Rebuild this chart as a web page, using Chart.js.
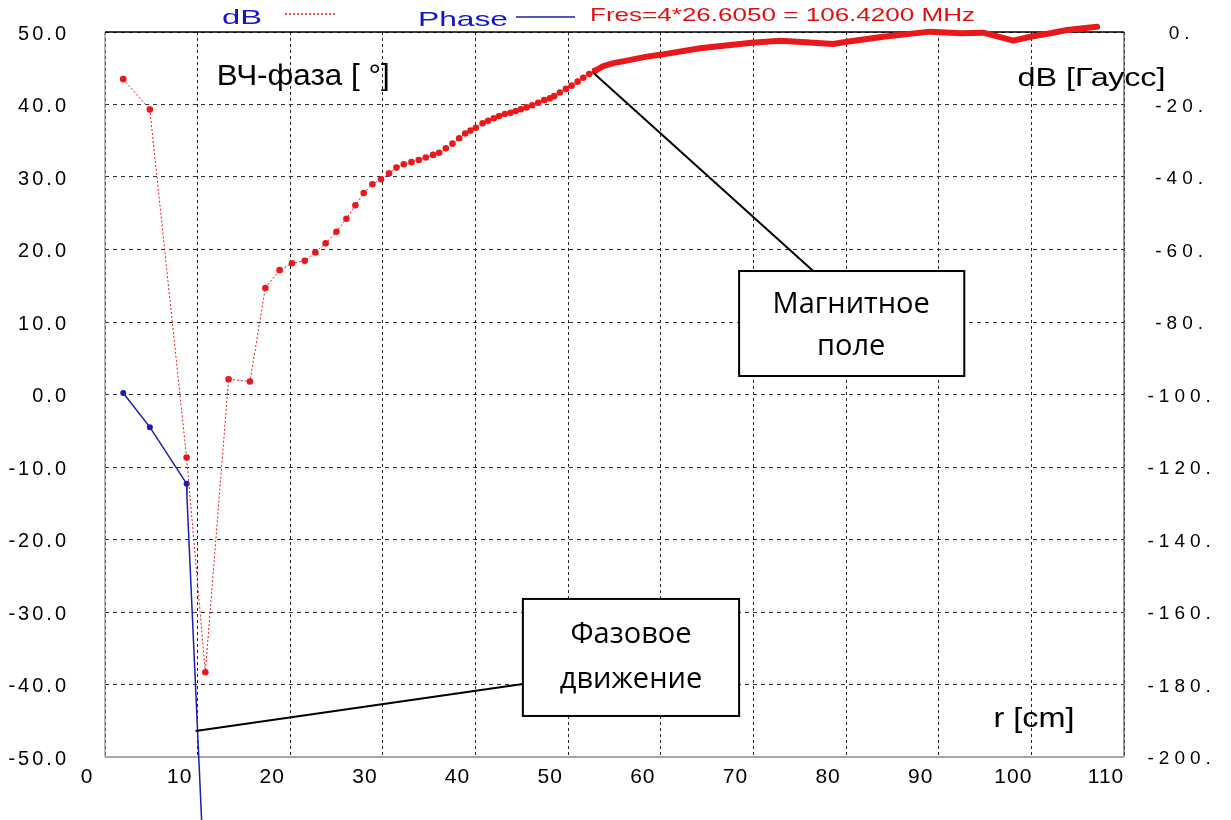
<!DOCTYPE html>
<html>
<head>
<meta charset="utf-8">
<script src="https://cdn.jsdelivr.net/npm/chart.js@4.4.1/dist/chart.umd.min.js"></script>
<style>
  html, body { margin: 0; padding: 0; background: #fff; }
  #wrap { width: 1231px; height: 820px; position: relative; }
</style>
</head>
<body>
<div id="wrap"><canvas id="c"></canvas></div>
<script>
// ---- data ----
// r [cm]
const rTicks = [0, 10, 20, 30, 40, 50, 60, 70, 80, 90, 100, 110];
// left axis: RF phase [deg]
const phaseTicks = [50, 40, 30, 20, 10, 0, -10, -20, -30, -40, -50];
// right axis: dB [Gauss]
const dbTicks = [0, -20, -40, -60, -80, -100, -120, -140, -160, -180, -200];

// Phase (blue)
const phaseR   = [1.97, 4.84, 8.81, 8.85, 10.43];
const phaseDeg = [0.2, -4.5, -12.3, -14.2, -58.7];
const phaseDot = [3, 3, 3, 0, 0];

// dB (red), sparse part with markers
const dbR = [1.97, 4.84, 8.81, 10.83, 13.34, 15.65, 17.31, 18.85, 20.18, 21.56,
  22.71, 23.82, 24.98, 26.06, 27.03, 27.93, 28.87, 29.8, 30.66, 31.46,
  32.25, 33.08, 33.87, 34.63, 35.42, 36.07, 36.79, 37.51, 38.23, 38.88,
  39.46, 40.03, 40.76, 41.36, 41.98, 42.55, 43.17, 43.78, 44.35, 44.89,
  45.51, 46.12, 46.76, 47.41, 48.03, 48.49, 49.11, 49.76, 50.37, 51.02,
  51.63, 52.27, 52.89];
const dbVal = [-13.0, -21.4, -117.4, -176.6, -95.8, -96.4, -70.6, -65.7, -63.8, -63.1,
  -60.8, -58.3, -55.1, -51.5, -47.8, -44.4, -42.0, -40.6, -39.0, -37.4,
  -36.5, -35.9, -35.3, -34.6, -33.9, -33.3, -32.1, -30.8, -29.3, -28.0,
  -27.2, -26.4, -25.2, -24.5, -23.8, -23.2, -22.6, -22.3, -21.8, -21.3,
  -20.8, -20.2, -19.5, -18.8, -18.3, -17.7, -16.7, -15.7, -14.8, -13.7,
  -12.6, -11.6, -10.7];

// dB (red), dense part where the markers merge into a thick line
const dbDenseR = [52.89, 53.79, 54.87, 56.32, 58.48, 59.91, 64.24, 69.82, 72.88, 75.68,
  78.6, 80.09, 84.0, 89.09, 92.33, 94.81, 98.05, 99.89, 102.05, 103.86, 107.1];
const dbDenseVal = [-10.7, -9.4, -8.6, -7.9, -6.8, -6.3, -4.5, -2.95, -2.4, -2.8,
  -3.3, -2.7, -1.3, 0.1, -0.35, -0.2, -2.4, -1.3, -0.35, 0.55, 1.46];

const RED = '#e8181b';
const BLUE = '#1c1cb0';
const FONT = "'Liberation Sans', Arial, sans-serif";
const BOXFONT = "'Open Sans', 'Noto Sans', sans-serif";

// per-axis letter spacing of tick labels
const tickSpacing = { x: '1px', y: '3px', yR: '5px' };

function pts(xs, ys) { return xs.map((x, i) => ({ x: x, y: ys[i] })); }

// draw text squeezed/stretched to a target width
function fitText(ctx, text, x1, x2, yc, size, family, color) {
  ctx.save();
  ctx.font = size + 'px ' + family;
  ctx.fillStyle = color;
  ctx.textBaseline = 'middle';
  ctx.textAlign = 'left';
  const w = ctx.measureText(text).width;
  const k = (x2 - x1) / w;
  ctx.translate(x1, yc);
  ctx.scale(k, 1);
  ctx.fillText(text, 0, 0);
  ctx.restore();
}

function seg(ctx, x1, y1, x2, y2, color, width, dash) {
  ctx.save();
  ctx.strokeStyle = color;
  ctx.lineWidth = width;
  ctx.setLineDash(dash || []);
  ctx.beginPath();
  ctx.moveTo(x1, y1);
  ctx.lineTo(x2, y2);
  ctx.stroke();
  ctx.restore();
}

const spacingPlugin = {
  id: 'tickSpacing',
  beforeDraw(chart) {
    Object.keys(tickSpacing).forEach(id => {
      const s = chart.scales[id];
      if (!s || s._spaced) return;
      const orig = s.drawLabels;
      s.drawLabels = function (area) {
        this.ctx.save();
        this.ctx.letterSpacing = tickSpacing[id];
        orig.call(this, area);
        this.ctx.restore();
      };
      s._spaced = true;
    });
  }
};

// plot frame
const framePlugin = {
  id: 'frame',
  beforeDatasetsDraw(chart) {
    const { ctx, chartArea: a } = chart;
    seg(ctx, a.left, a.top, a.left, a.bottom, '#8c8c8c', 1.2);
    seg(ctx, a.right, a.top, a.right, a.bottom, '#555', 1.2);
    seg(ctx, a.left, a.bottom, a.right, a.bottom, '#a8a8a8', 2);
    seg(ctx, a.left, a.top, a.right, a.top, '#000', 1.5);
  }
};

// header legend
const headerPlugin = {
  id: 'header',
  afterDraw(chart) {
    const ctx = chart.ctx;
    fitText(ctx, 'dB', 222, 262, 18, 21, FONT, '#1414c8');
    seg(ctx, 285, 14, 337, 14, RED, 1.5, [2, 2]);
    fitText(ctx, 'Phase', 418, 508, 20, 21, FONT, '#1414c8');
    seg(ctx, 516, 17, 575, 17, BLUE, 1.5);
    fitText(ctx, 'Fres=4*26.6050 = 106.4200 MHz', 590, 975, 16, 19, FONT, '#e01010');
  }
};

// axis captions, call-out boxes and leader lines (in data coordinates)
const notesPlugin = {
  id: 'notes',
  afterDatasetsDraw(chart) {
    const ctx = chart.ctx;
    const X = v => chart.scales.x.getPixelForValue(v);
    const Y = v => chart.scales.y.getPixelForValue(v);

    fitText(ctx, 'ВЧ-фаза [ °]', X(12.05), X(30.74), Y(43.8), 29, FONT, '#000');
    fitText(ctx, 'dB [Гаусс]', X(98.49), X(114.48), Y(43.52), 26, FONT, '#000');
    fitText(ctx, 'r [cm]', X(95.9), X(104.65), Y(-44.9), 27, FONT, '#000');

    // leader lines
    seg(ctx, X(76.45), Y(17.03), X(52.68), Y(44.41), '#000', 2);
    seg(ctx, X(45.11), Y(-39.93), X(9.78), Y(-46.41), '#000', 2);

    const boxes = [
      { x1: 68.45, x2: 92.76, y1: 17.03, y2: 2.55, cx: 80.55, lines: [['Магнитное', 12.34], ['поле', 6.55]] },
      { x1: 45.11, x2: 68.45, y1: -28.2, y2: -44.34, cx: 56.78, lines: [['Фазовое', -33.17], ['движение', -39.38]] }
    ];
    boxes.forEach(b => {
      const l = X(b.x1), r = X(b.x2), t = Y(b.y1), btm = Y(b.y2);
      ctx.save();
      ctx.fillStyle = '#fff';
      ctx.fillRect(l, t, r - l, btm - t);
      ctx.strokeStyle = '#000';
      ctx.lineWidth = 2;
      ctx.strokeRect(l, t, r - l, btm - t);
      ctx.fillStyle = '#000';
      ctx.font = '29px ' + BOXFONT;
      ctx.textAlign = 'center';
      ctx.textBaseline = 'middle';
      b.lines.forEach(([txt, yv]) => ctx.fillText(txt, X(b.cx), Y(yv)));
      ctx.restore();
    });
  }
};

// keep the tick padding from pushing the plot area down
function fixVertical(width) {
  return s => { s.width = width; s.paddingTop = 0; s.paddingBottom = 0; };
}

new Chart(document.getElementById('c'), {
  type: 'line',
  data: {
    datasets: [
      {
        label: 'dB',
        data: pts(dbR, dbVal),
        yAxisID: 'yR',
        borderColor: RED,
        borderWidth: 1,
        borderDash: [2, 2],
        pointRadius: 3.3,
        pointBackgroundColor: RED,
        pointBorderWidth: 0,
        tension: 0,
        clip: false
      },
      {
        label: 'dB dense',
        data: pts(dbDenseR, dbDenseVal),
        yAxisID: 'yR',
        borderColor: RED,
        borderWidth: 6,
        borderCapStyle: 'round',
        borderJoinStyle: 'round',
        pointRadius: 0,
        tension: 0,
        clip: false
      },
      {
        label: 'Phase',
        data: pts(phaseR, phaseDeg),
        yAxisID: 'y',
        borderColor: BLUE,
        borderWidth: 1.5,
        pointRadius: phaseDot,
        pointBackgroundColor: BLUE,
        pointBorderWidth: 0,
        tension: 0,
        clip: false
      }
    ]
  },
  options: {
    responsive: true,
    maintainAspectRatio: false,
    animation: false,
    layout: { padding: { top: 32 } },
    plugins: {
      legend: { display: false },
      tooltip: { enabled: false }
    },
    scales: {
      x: {
        type: 'linear',
        min: 0,
        max: 110,
        afterBuildTicks: s => { s.ticks = rTicks.map(v => ({ value: v })); },
        afterFit: s => { s.height = 63; s.paddingLeft = 0; s.paddingRight = 0; },
        grid: { color: '#222', lineWidth: 1, drawTicks: false },
        border: { display: false, dash: [3, 3] },
        ticks: {
          color: '#000',
          font: { family: FONT, size: 21 },
          padding: 8,
          labelOffset: -18,
          maxRotation: 0,
          autoSkip: false
        }
      },
      y: {
        position: 'left',
        min: -50,
        max: 50,
        afterBuildTicks: s => { s.ticks = phaseTicks.map(v => ({ value: v })); },
        afterFit: fixVertical(105),
        grid: { color: '#333', lineWidth: 1, drawTicks: false },
        border: { display: false, dash: [4, 4] },
        ticks: {
          color: '#000',
          font: { family: FONT, size: 20 },
          padding: 36,
          labelOffset: 2,
          callback: v => v.toFixed(1)
        }
      },
      yR: {
        position: 'right',
        min: -200,
        max: 0,
        afterBuildTicks: s => { s.ticks = dbTicks.map(v => ({ value: v })); },
        afterFit: fixVertical(107),
        grid: { display: false, drawTicks: false },
        border: { display: false },
        ticks: {
          color: '#000',
          font: { family: FONT, size: 19 },
          padding: 36,
          labelOffset: 2,
          crossAlign: 'center',
          callback: v => v + '.'
        }
      }
    }
  },
  plugins: [spacingPlugin, framePlugin, notesPlugin, headerPlugin]
});
</script>
</body>
</html>
